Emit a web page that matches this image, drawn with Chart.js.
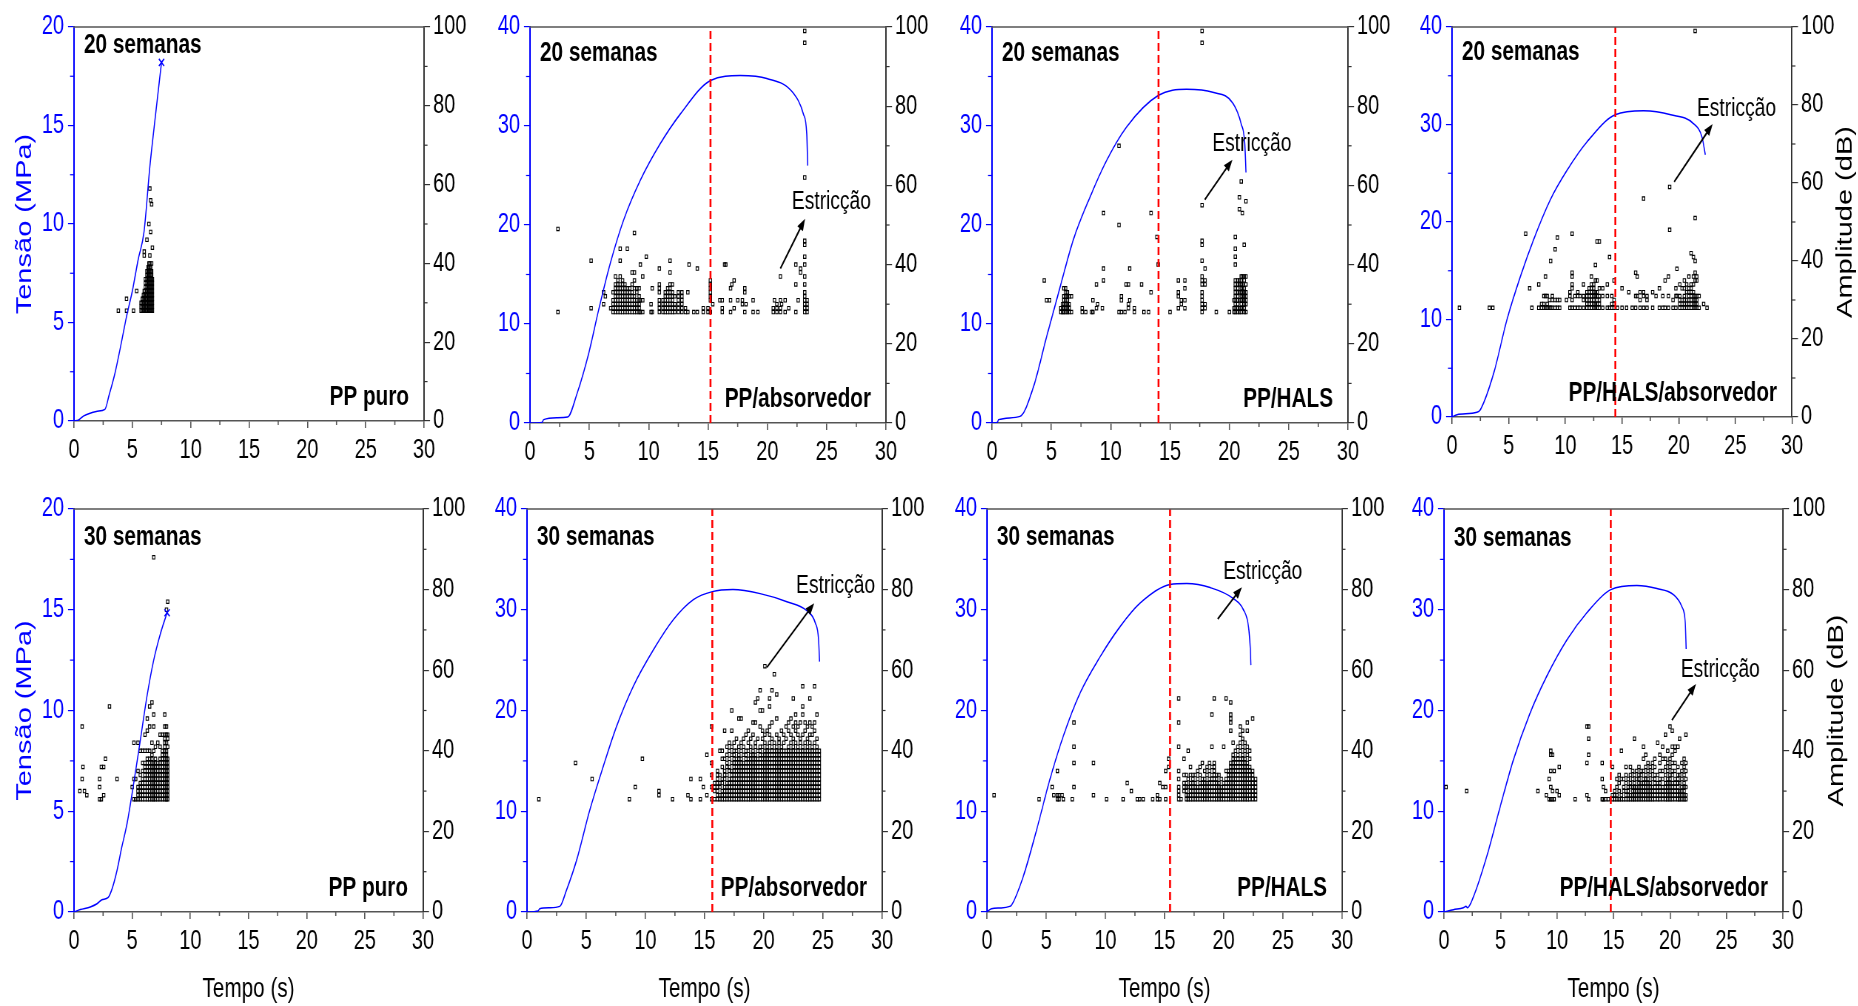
<!DOCTYPE html>
<html>
<head>
<meta charset="utf-8">
<script src="https://cdn.jsdelivr.net/npm/chart.js@4.4.1/dist/chart.umd.min.js"></script>
<style>
    html, body { margin: 0; padding: 0; background: #fff; }
    body { width: 1858px; height: 1006px; position: relative; overflow: hidden; }
    canvas { position: absolute; transform-origin: 0 0; }
</style>
</head>
<body>
<script>
// Tensile curves (stress vs time) with acoustic emission hits (amplitude vs time)

const weekLabels = ['20 semanas', '30 semanas'];
const materials = ['PP puro', 'PP/absorvedor', 'PP/HALS', 'PP/HALS/absorvedor'];
const stressMax = [20, 40, 40, 40];
const timeMax = 30;
const ampMax = 100;

// 20 weeks
const time20Puro = [0, 0.4, 0.8, 1.5, 2.0, 2.65, 3.0, 3.5, 4.0, 4.5, 5.0, 5.5, 6.0, 6.5, 7.0, 7.5];
const stress20Puro = [0, 0.05, 0.25, 0.42, 0.5, 0.59, 1.3, 2.4, 3.8, 5.3, 6.6, 8.2, 9.6, 12.9, 15.6, 18.2];
const hits20Puro = [
    [3.8, [28]], [4.5, [28, 31]], [5.1, [28]], [5.37, [33]],
    [5.75, [28, 29, 30]], [5.85, [28, 29, 30, 31]], [5.95, [28, 29, 30, 31, 32]],
    [6.02, [28, 29, 30, 31, 32, 33, 42, 43]], [6.12, [28, 29, 30, 31, 32, 33, 34, 35, 36]],
    [6.25, [28, 29, 30, 31, 32, 33, 34, 35, 36, 37, 38, 46]], [6.35, [28, 29, 30, 31, 32, 33, 34, 35, 36, 37, 38, 39]],
    [6.42, [28, 29, 30, 31, 32, 33, 34, 35, 36, 37, 38, 39, 40, 50]],
    [6.5, [28, 29, 30, 31, 32, 33, 34, 35, 36, 37, 38, 39, 40, 42, 59]],
    [6.57, [28, 29, 30, 31, 32, 33, 34, 35, 36, 37, 38, 39, 48, 56]],
    [6.65, [28, 29, 30, 31, 32, 33, 34, 35, 36, 37, 38, 40, 55]], [6.72, [28, 29, 30, 31, 32, 33, 34, 35, 36, 44]]
];

const time20Abs = [0, 1.0, 1.15, 2.27, 3.17, 3.96, 4.94, 5.78, 6.76, 7.89, 9.29, 10.97, 12.66, 15.21, 17.71, 19.95, 22.2, 23.04, 23.32, 23.4];
const stress20Abs = [0, 0.05, 0.34, 0.54, 0.6, 2.96, 7.0, 11.4, 16.1, 20.5, 24.5, 28.2, 31.2, 34.6, 35.1, 34.8, 33.3, 31.2, 29.2, 26.0];
const hits20Abs = [
    [2.35, [28, 49]], [5.15, [29, 41]], [6.2, [30, 33]], [6.35, [32]], [6.8, [29]],
    [7.0, [28, 29, 30, 31, 33]], [7.2, [28, 29, 30, 31, 32, 33, 34, 35, 37]], [7.4, [28, 29, 30, 31, 32, 33, 34, 35, 36]],
    [7.6, [28, 29, 30, 31, 32, 33, 34, 35, 37, 41, 44]], [7.8, [28, 29, 30, 31, 32, 33, 34, 35, 36]],
    [8.0, [28, 29, 30, 31, 32, 33, 34, 35]], [8.2, [28, 29, 30, 31, 32, 33, 34, 44]], [8.4, [28, 29, 30, 31, 32, 33, 34]],
    [8.6, [28, 29, 30, 31, 32, 33, 35, 38]], [8.8, [28, 29, 30, 31, 32, 34, 36, 38, 48]], [9.0, [28, 29, 30, 31, 33, 34]],
    [9.2, [28, 29, 30, 31, 32, 34]], [9.3, [28, 31, 40]], [9.5, [28, 31, 37]], [9.8, [42]],
    [10.2, [28, 30]], [10.3, [28, 34]], [10.9, [28, 29, 30, 31, 33, 34, 35, 39]], [11.2, [28, 29, 30, 31]],
    [11.4, [28, 29, 30, 31, 32, 33]], [11.6, [28, 29, 30, 31, 32, 33, 34]], [11.8, [28, 29, 30, 31, 32, 33, 34, 35, 38, 41]],
    [12.0, [28, 29, 30, 31, 32, 33, 35]], [12.2, [28, 29, 30, 32]], [12.5, [28, 29, 30, 31, 32, 33]],
    [12.8, [28, 29, 30, 31, 32, 33]], [13.1, [28, 29]], [13.3, [28, 33]], [13.4, [40]], [13.8, [28]], [14.1, [28, 39]],
    [14.6, [28, 29]], [15.0, [28, 29]], [15.2, [28, 31, 32, 33, 34, 35, 36]], [15.4, [30]],
    [16.0, [31]], [16.2, [28, 29, 31]], [16.4, [40]], [16.5, [40]], [16.9, [28, 31, 34]], [17.0, [35]],
    [17.2, [29, 36]], [17.5, [31]], [17.9, [30, 31]], [18.1, [28, 33, 34]], [18.2, [30]], [18.8, [28, 31]],
    [19.2, [28]], [20.5, [28, 29]], [20.6, [31]], [20.8, [28, 29, 30]], [21.1, [28, 29, 31, 37]], [21.2, [30]],
    [21.5, [28, 31]], [21.8, [29]], [22.4, [28, 35, 40]], [22.6, [31]], [22.8, [38, 39]],
    [23.15, [28, 29, 30, 31, 32, 33, 35, 37, 40, 42, 45, 46, 62, 96, 99]], [23.35, [28, 29, 30, 31]]
];

const time20Hals = [0, 0.45, 0.55, 2.36, 3.48, 4.6, 5.73, 6.85, 8.25, 9.65, 11.34, 14.03, 16.39, 18.6, 20.3, 21.0, 21.3, 21.4];
const stress20Hals = [0, 0.05, 0.34, 0.67, 3.6, 8.7, 13.7, 18.5, 22.8, 26.5, 29.9, 33.1, 33.7, 33.4, 32.3, 30.2, 28.2, 25.3];
const hits20Hals = [
    [4.4, [36]], [4.6, [31]], [4.85, [31]],
    [5.8, [28, 29]], [5.95, [28, 29, 30]], [6.05, [28, 29, 30, 31, 32, 34]], [6.2, [28, 29, 30, 31, 32, 33, 34]],
    [6.35, [28, 29, 30, 31, 32, 33]], [6.5, [28, 29, 30, 32]], [6.7, [28, 32]],
    [7.6, [28, 29]], [7.9, [28]], [8.4, [28]], [8.5, [28, 31]], [8.8, [29, 35]], [8.9, [30]], [9.3, [29]], [9.4, [36, 39, 53]],
    [10.7, [28, 50, 70]], [10.9, [28, 31, 32]], [11.2, [28]], [11.3, [35]], [11.5, [29, 30, 35]], [11.6, [31, 39]],
    [12.0, [28, 29]], [12.6, [35]], [12.8, [28]], [13.2, [28]], [13.4, [33, 53]], [13.9, [47]], [14.0, [40]],
    [15.0, [28]], [15.7, [29, 32, 33, 36]], [15.95, [30, 31]], [16.25, [29, 31, 34, 36]],
    [17.7, [28, 29, 30, 31, 32, 33, 35, 36, 37, 41, 45, 46, 55, 96, 99]], [17.95, [29, 30, 35, 36, 39]],
    [18.9, [28]], [20.0, [28]],
    [20.4, [28, 29, 31]], [20.5, [28, 29, 30, 31, 32, 33, 34, 35, 36, 40, 42, 44, 47]], [20.7, [28, 29, 30, 31, 32, 33, 34, 35, 36]],
    [20.85, [28, 29, 31, 33, 35, 36, 54, 57]], [21.0, [28, 29, 30, 31, 32, 33, 34, 35, 36, 37, 61]],
    [21.1, [29, 31, 32, 33, 34, 35, 37, 53]], [21.25, [28, 29, 30, 31, 32, 33, 34, 36, 37, 45]],
    [21.4, [28, 30, 31, 32, 33, 35, 37, 56]]
];

const time20HalsAbs = [0, 0.44, 2.2, 2.5, 3.68, 4.85, 6.03, 7.2, 8.68, 10.15, 11.9, 14.4, 16.9, 19.3, 21.3, 22.06, 22.35];
const stress20HalsAbs = [0, 0.24, 0.48, 0.75, 4.5, 10.0, 14.4, 18.2, 22.3, 25.3, 28.2, 31.0, 31.4, 31.0, 30.1, 28.7, 26.9];
const hits20HalsAbs = [
    [0.65, [28]], [3.3, [28]], [3.6, [28]], [6.5, [47]], [6.85, [33]], [7.05, [28]], [7.65, [28, 34]],
    [7.9, [28, 29]], [8.1, [28, 29, 31]], [8.25, [28, 31, 36]], [8.4, [28, 29, 31]], [8.6, [28, 30]], [8.7, [28, 40]],
    [8.85, [28, 30, 31]], [9.1, [28, 30, 43]], [9.3, [28, 30, 46]], [9.5, [28, 30]],
    [10.1, [30]], [10.4, [28, 31, 32]], [10.6, [28, 30, 33, 34, 36, 37, 47]], [10.85, [28, 31]], [11.1, [28, 31, 32]],
    [11.3, [28, 31]], [11.6, [28, 30, 31, 34]], [11.9, [28, 29, 30, 31, 32]], [12.1, [28, 29, 30, 31, 32, 33]],
    [12.3, [28, 29, 30, 31, 32, 33, 34, 36]], [12.5, [28, 29, 30, 31, 32, 33, 34]], [12.65, [28, 29, 31, 32, 35, 39]],
    [12.8, [28, 29, 30, 31, 32, 35, 45]], [13.0, [28, 29, 30, 31, 33, 45]], [13.3, [28, 31, 33]], [13.7, [28, 31, 34]],
    [13.9, [28, 41]], [14.1, [28, 29, 31]], [14.3, [28, 29, 30, 35]],
    [14.6, [28]], [15.0, [28, 33]], [15.4, [28]], [15.6, [32]], [15.9, [28]], [16.2, [28, 31, 37]], [16.35, [31, 36]],
    [16.6, [28, 30, 32]], [16.9, [28, 31, 32, 56]], [17.2, [28, 30, 31]], [17.7, [28, 32]], [18.0, [31]],
    [18.3, [28, 33]], [18.6, [28, 31]], [18.8, [28, 35]], [19.1, [28, 31, 36]], [19.2, [48, 59]], [19.5, [28, 30]],
    [19.75, [28, 31, 33]], [19.85, [31, 38]], [20.1, [28, 29, 30, 31, 34]], [20.3, [28, 29, 30, 33]],
    [20.5, [28, 29, 30, 31, 33, 35]], [20.7, [28, 29, 30, 32, 34]], [20.9, [28, 29, 30, 31, 32, 33, 36]],
    [21.1, [28, 29, 30, 31, 32, 33, 34, 42]], [21.3, [28, 29, 30, 31, 32, 34, 36, 41]],
    [21.45, [28, 29, 30, 31, 35, 37, 40, 51, 99]], [21.6, [28, 29, 30, 31, 35, 36]], [21.8, [28, 31]],
    [22.2, [29]], [22.5, [28]]
];

// 30 weeks
const time30Puro = [0, 0.54, 1.4, 1.98, 2.4, 2.92, 3.3, 3.7, 4.1, 4.56, 5.13, 5.7, 6.27, 6.85, 7.42, 8.0];
const stress30Puro = [0, 0.12, 0.25, 0.41, 0.61, 0.71, 1.2, 2.07, 3.2, 4.39, 6.38, 8.53, 10.7, 12.5, 13.8, 14.85];
const hits30Puro = [
    [0.5, [30]], [0.7, [33, 46]], [0.77, [36]], [0.9, [30]], [1.1, [29]], [2.2, [28, 31, 33]], [2.35, [28, 36]],
    [2.55, [29, 36]], [2.7, [38]], [3.05, [51]], [3.7, [33]],
    [5.0, [31]], [5.15, [28, 33, 42]], [5.3, [28, 33]], [5.5, [28, 29, 30, 31, 35, 42]],
    [5.7, [28, 29, 30, 31, 32, 34, 40]], [5.9, [28, 29, 30, 31, 32, 33, 35, 37, 40]],
    [6.1, [28, 29, 30, 31, 32, 33, 34, 35, 36, 37, 40, 44]], [6.3, [28, 29, 30, 31, 32, 33, 34, 35, 36, 37, 38, 40, 45, 48]],
    [6.5, [28, 29, 30, 31, 32, 33, 34, 35, 36, 37, 38, 40, 46, 51]], [6.7, [28, 29, 30, 31, 32, 33, 34, 35, 36, 37, 38, 39, 42, 52]],
    [6.85, [28, 29, 30, 31, 32, 33, 34, 35, 36, 37, 40, 46, 49, 88]], [7.0, [28, 29, 30, 31, 32, 33, 34, 35, 36, 37, 38, 41]],
    [7.2, [28, 29, 30, 31, 32, 33, 34, 35, 36, 37, 42]], [7.4, [28, 29, 30, 31, 32, 33, 34, 35, 36, 37, 38, 41, 44]],
    [7.6, [28, 29, 30, 31, 32, 33, 34, 35, 36, 37, 38, 39, 40, 44]],
    [7.8, [28, 29, 30, 31, 32, 33, 34, 35, 36, 37, 38, 39, 40, 41, 42, 43, 44, 46, 49]],
    [7.95, [28, 29, 30, 31, 32, 33, 34, 35, 36, 37, 38, 39, 40, 42, 44, 46, 75]],
    [8.05, [28, 29, 30, 31, 32, 33, 34, 35, 36, 37, 38, 41, 43, 44, 77]]
];

const time30Abs = [0, 0.93, 1.07, 1.9, 2.77, 3.33, 4.18, 5.3, 6.43, 7.56, 8.98, 10.67, 12.36, 14.06, 15.66, 17.4, 19.7, 21.96, 23.65, 24.36, 24.64, 24.72];
const stress30Abs = [0, 0.1, 0.33, 0.43, 0.56, 2.15, 5.1, 10.1, 14.4, 18.4, 22.4, 26.0, 29.0, 31.0, 31.8, 32.0, 31.6, 30.8, 29.9, 28.7, 27.0, 24.85];
const hits30Abs = [
    [1.0, [28]], [4.1, [37]], [5.5, [33]], [8.65, [28]], [9.15, [31]], [9.75, [38]], [11.15, [29, 30]], [12.3, [28]],
    [13.6, [29]], [13.85, [28, 33]], [14.65, [28, 33]], [14.9, [31]], [15.2, [29, 39]], [15.6, [28, 31, 34, 37, 46]],
    [15.85, [28, 30, 31, 32]],
    [16.1, [28, 29, 30, 31, 32, 33, 34, 35]], [16.3, [28, 29, 31, 32, 34, 40]], [16.5, [28, 29, 30, 32, 33, 36, 38, 40]],
    [16.7, [28, 29, 30, 31, 33, 34, 35, 38, 45]], [16.9, [28, 29, 30, 31, 32, 34, 36, 37, 39, 41]],
    [17.1, [28, 29, 30, 31, 32, 33, 35, 36, 38, 40, 42]], [17.3, [28, 29, 30, 31, 32, 33, 34, 35, 37, 39, 41, 45, 50]],
    [17.5, [28, 29, 30, 31, 32, 33, 34, 35, 36, 37, 38, 39, 40, 42]], [17.7, [28, 29, 30, 31, 32, 33, 34, 35, 36, 37, 38, 40, 43]],
    [17.9, [28, 29, 30, 31, 32, 33, 34, 35, 36, 37, 38, 39, 41, 48]], [18.1, [28, 29, 30, 31, 32, 33, 34, 35, 36, 37, 38, 40, 42, 48]],
    [18.3, [28, 29, 30, 31, 32, 33, 34, 35, 36, 37, 39, 41, 43]], [18.5, [28, 29, 30, 31, 32, 33, 34, 35, 36, 37, 38, 39, 40, 44]],
    [18.7, [28, 29, 30, 31, 32, 33, 34, 35, 36, 37, 38, 40, 42, 45]], [18.9, [28, 29, 30, 31, 32, 33, 34, 35, 36, 37, 38, 39, 41, 43]],
    [19.1, [28, 29, 30, 31, 32, 33, 34, 35, 36, 37, 38, 39, 40, 44, 47]],
    [19.3, [28, 29, 30, 31, 32, 33, 34, 35, 36, 37, 38, 39, 41, 42, 47, 52]],
    [19.5, [28, 29, 30, 31, 32, 33, 34, 35, 36, 37, 38, 40, 43, 53]],
    [19.7, [28, 29, 30, 31, 32, 33, 34, 35, 36, 37, 38, 39, 40, 41, 46, 50, 55]],
    [19.9, [28, 29, 30, 31, 32, 33, 34, 35, 36, 37, 38, 39, 41, 43, 45, 50]],
    [20.1, [28, 29, 30, 31, 32, 33, 34, 35, 36, 37, 38, 39, 40, 42, 44, 61]],
    [20.3, [28, 29, 30, 31, 32, 33, 34, 35, 36, 37, 38, 39, 40, 41, 45]],
    [20.5, [28, 29, 30, 31, 32, 33, 34, 35, 36, 37, 38, 39, 40, 42, 44, 46, 51, 53]],
    [20.7, [28, 29, 30, 31, 32, 33, 34, 35, 36, 37, 38, 39, 40, 41, 43, 47, 55]],
    [20.9, [28, 29, 30, 31, 32, 33, 34, 35, 36, 37, 38, 39, 40, 42, 59]],
    [21.1, [28, 29, 30, 31, 32, 33, 34, 35, 36, 37, 38, 39, 40, 41, 44, 48, 54]],
    [21.3, [28, 29, 30, 31, 32, 33, 34, 35, 36, 37, 38, 39, 40, 42, 43]],
    [21.5, [28, 29, 30, 31, 32, 33, 34, 35, 36, 37, 38, 39, 40, 41, 45]],
    [21.7, [28, 29, 30, 31, 32, 33, 34, 35, 36, 37, 38, 39, 40, 42, 44]],
    [21.9, [28, 29, 30, 31, 32, 33, 34, 35, 36, 37, 38, 39, 40, 43, 46]],
    [22.1, [28, 29, 30, 31, 32, 33, 34, 35, 36, 37, 38, 39, 40, 41, 45, 47]],
    [22.3, [28, 29, 30, 31, 32, 33, 34, 35, 36, 37, 38, 39, 40, 42, 44, 48]],
    [22.5, [28, 29, 30, 31, 32, 33, 34, 35, 36, 37, 38, 39, 40, 41, 43, 46, 53]],
    [22.7, [28, 29, 30, 31, 32, 33, 34, 35, 36, 37, 38, 39, 40, 42, 45, 47, 49]],
    [22.9, [28, 29, 30, 31, 32, 33, 34, 35, 36, 37, 38, 39, 40, 41, 44, 46]],
    [23.1, [28, 29, 30, 31, 32, 33, 34, 35, 36, 37, 38, 39, 40, 42, 43, 47]],
    [23.3, [28, 29, 30, 31, 32, 33, 34, 35, 36, 37, 38, 39, 40, 41, 44, 49, 51, 56]],
    [23.5, [28, 29, 30, 31, 32, 33, 34, 35, 36, 37, 38, 39, 40, 42, 45, 47]],
    [23.7, [28, 29, 30, 31, 32, 33, 34, 35, 36, 37, 38, 39, 40, 41, 43, 46]],
    [23.9, [28, 29, 30, 31, 32, 33, 34, 35, 36, 37, 38, 39, 40, 42, 44, 47, 53]],
    [24.1, [28, 29, 30, 31, 32, 33, 34, 35, 36, 37, 38, 39, 40, 41, 44, 46]],
    [24.3, [28, 29, 30, 31, 32, 33, 34, 35, 36, 37, 38, 39, 40, 42, 45, 47, 56]],
    [24.5, [28, 29, 30, 31, 32, 33, 34, 35, 36, 37, 38, 39, 40, 41, 43, 49]],
    [24.7, [28, 29, 30, 31, 32, 33, 34, 35, 36, 37, 38, 39, 40]]
];

const time30Hals = [0, 0.37, 1.2, 1.92, 2.06, 3.05, 4.18, 5.3, 6.43, 7.85, 9.54, 11.23, 12.93, 15.47, 16.88, 18.85, 20.83, 21.67, 22.1, 22.24, 22.3];
const stress30Hals = [0, 0.33, 0.4, 0.56, 0.66, 3.48, 8.1, 13.1, 17.4, 21.7, 25.3, 28.3, 30.65, 32.5, 32.6, 32.2, 31.1, 30.0, 28.3, 26.3, 24.5];
const hits30Hals = [
    [0.6, [29]], [4.4, [28]], [5.5, [31]], [5.65, [29]], [5.95, [28, 29, 35]], [6.1, [28, 29]], [6.35, [29]], [6.45, [28]],
    [7.2, [28]], [7.35, [31, 37, 41, 47]], [9.0, [29, 37]], [10.1, [28]], [11.5, [28]], [11.85, [32]], [12.2, [30]],
    [12.7, [28]], [12.9, [28]], [13.2, [28]], [14.0, [28]], [14.4, [28, 29]], [14.6, [28, 32]], [14.85, [31]],
    [15.1, [28, 31, 35]], [15.35, [36, 38]],
    [16.2, [28, 29, 30, 31, 33, 35, 41, 47, 53]], [16.4, [28]], [16.65, [30, 31, 32, 34, 38]], [16.85, [28, 29, 30, 31, 32, 34]],
    [17.0, [28, 29, 31, 33, 40]], [17.2, [28, 29, 30, 31, 32, 34, 36]], [17.4, [28, 29, 30, 31, 32, 33, 34]],
    [17.6, [28, 29, 30, 31, 32, 34]], [17.8, [28, 29, 30, 31, 33, 35]], [18.0, [28, 29, 30, 31, 32, 34, 36]],
    [18.2, [28, 29, 30, 31, 32, 33, 37]], [18.4, [28, 29, 30, 31, 32, 33, 35]], [18.6, [28, 29, 30, 31, 32, 34, 36]],
    [18.8, [28, 29, 30, 31, 32, 33, 35, 37]], [19.0, [28, 29, 30, 31, 32, 33, 34, 36, 41, 49]],
    [19.2, [28, 29, 30, 31, 32, 33, 34, 35, 36, 37, 53]], [19.4, [28, 29, 30, 31, 32, 33, 34]],
    [19.6, [28, 29, 30, 31, 32, 34]], [19.8, [28, 29, 30, 31, 33]], [20.0, [28, 29, 30, 31, 32, 41]],
    [20.2, [28, 29, 30, 31, 32, 33, 35, 53]], [20.4, [28, 29, 30, 31, 32, 33, 34, 35]],
    [20.6, [28, 29, 30, 31, 32, 33, 34, 35, 36, 37, 45, 47, 48, 49, 52]],
    [20.8, [28, 29, 30, 31, 32, 33, 34, 35, 36, 37, 38, 39, 42]], [21.0, [28, 29, 30, 31, 32, 33, 34, 35, 36, 37, 38, 40]],
    [21.2, [28, 29, 30, 31, 32, 33, 34, 35, 36, 37, 38, 39, 41]],
    [21.4, [28, 29, 30, 31, 32, 33, 34, 35, 36, 37, 38, 40, 42, 44, 46]],
    [21.6, [28, 29, 30, 31, 32, 33, 34, 35, 36, 37, 38, 39, 41, 43, 45]],
    [21.8, [28, 29, 30, 31, 32, 33, 34, 35, 36, 37, 38, 40, 42]],
    [22.0, [28, 29, 30, 31, 32, 33, 34, 35, 36, 37, 39, 41, 45, 47]],
    [22.2, [28, 29, 30, 31, 32, 33, 34, 35, 36, 38, 40]], [22.45, [28, 29, 30, 31, 32, 33, 34, 35, 48]],
    [22.7, [28, 29, 30, 31, 32, 33]]
];

const time30HalsAbs = [0, 0.83, 1.71, 1.95, 2.07, 2.6, 3.78, 4.96, 6.14, 7.6, 9.09, 10.87, 12.64, 14.76, 17.07, 18.84, 20.3, 21.05, 21.35, 21.43];
const stress30HalsAbs = [0, 0.23, 0.43, 0.56, 0.43, 1.5, 5.5, 10.4, 15.1, 19.7, 23.4, 27.0, 29.7, 32.0, 32.4, 32.1, 31.5, 30.3, 28.7, 26.1];
const hits30HalsAbs = [
    [0.18, [31]], [2.0, [30]], [8.3, [30]], [9.05, [29]], [9.3, [28, 33]], [9.45, [28, 31, 35, 39, 40]], [9.6, [28, 30, 39]],
    [9.75, [28, 35]], [10.0, [30]], [10.2, [29, 36]], [11.6, [28]], [12.65, [29, 37, 46]], [12.8, [28, 39, 43, 46]],
    [14.0, [28, 33, 37]], [14.1, [28, 31]], [14.3, [28, 30]], [14.55, [28]], [14.9, [28, 29, 36]], [15.1, [28, 29, 30]],
    [15.3, [28, 29, 31, 33]], [15.5, [28, 30, 32, 34]], [15.7, [28, 29, 33, 40]], [15.9, [28, 30, 31, 33]],
    [16.1, [28, 29, 30, 32, 34, 36]], [16.3, [28, 29, 30, 31, 33]], [16.5, [28, 29, 31, 32, 34, 36]],
    [16.7, [28, 29, 30, 31, 33, 35]], [16.85, [28, 29, 30, 31, 32, 34, 43]], [17.05, [28, 29, 30, 31, 33, 35]],
    [17.25, [28, 29, 30, 31, 32, 33, 34, 36]], [17.45, [28, 29, 30, 31, 32, 34, 35]],
    [17.65, [28, 29, 30, 31, 32, 33, 35, 38, 41]], [17.85, [28, 29, 30, 31, 32, 33, 34, 36, 39]],
    [18.05, [28, 29, 30, 31, 32, 33, 35, 37]], [18.25, [28, 29, 30, 31, 32, 34, 36]], [18.45, [28, 29, 30, 31, 33, 35, 37]],
    [18.65, [28, 29, 30, 31, 32, 33, 34, 36, 38]], [18.9, [28, 29, 30, 31, 32, 34, 42]],
    [19.1, [28, 29, 30, 31, 32, 33, 35, 37, 39]], [19.35, [28, 29, 30, 31, 33, 35, 38, 41]],
    [19.6, [28, 29, 30, 31, 32, 34, 36, 38, 44]], [19.8, [28, 29, 30, 31, 32, 33, 35, 37, 40]],
    [20.0, [28, 29, 30, 31, 32, 33, 34, 36, 38, 46]], [20.2, [28, 29, 30, 31, 32, 34, 35, 37, 39, 41, 45]],
    [20.45, [28, 29, 30, 31, 32, 33, 35, 37, 40, 41]], [20.7, [28, 29, 30, 31, 32, 33, 34, 36, 41]],
    [20.85, [28, 29, 30, 32, 34, 43]], [21.05, [28, 29, 30, 31, 33, 35, 37]], [21.25, [28, 29, 30, 31, 32, 34, 36, 38]],
    [21.4, [28, 29, 31, 33, 35, 37, 44]]
];

// onset of necking (red dashed line), s
const neckTime = [null, 15.21, 14.03, 14.41, null, 15.66, 15.47, 14.76];
// "Estricção" arrows: [time, amplitude] on the amplitude axis
const arrowFrom = [null, [21.1, 39], [17.93, 56.4], [19.6, 60.3], null, [20.27, 60.7], [19.5, 72.7], [20.17, 47.6]];
const arrowTo = [null, [23.18, 51.6], [20.26, 66.5], [23.0, 75.1], null, [24.27, 76.6], [21.54, 80.6], [22.3, 56.6]];
const arrowLabel = [null, [25.4, 55.8], [21.9, 70.5], [25.1, 79], null, [26.08, 81], [23.3, 84.5], [24.45, 60]];

const series = [
    [time20Puro, stress20Puro, hits20Puro], [time20Abs, stress20Abs, hits20Abs],
    [time20Hals, stress20Hals, hits20Hals], [time20HalsAbs, stress20HalsAbs, hits20HalsAbs],
    [time30Puro, stress30Puro, hits30Puro], [time30Abs, stress30Abs, hits30Abs],
    [time30Hals, stress30Hals, hits30Hals], [time30HalsAbs, stress30HalsAbs, hits30HalsAbs]
];

// plot-area boxes on the page: left, top, right, bottom
const boxes = [
    [74, 27, 424, 421], [530, 27, 886, 423], [992, 27, 1348, 423], [1452, 27, 1792, 417],
    [74, 509, 423, 912], [527, 509, 882, 912], [987, 509, 1342, 912], [1444, 509, 1783, 912]
];
const weekDy = [18, 26, 26, 25, 28, 28, 28, 29];

const BLUE = '#0000ff';
const GRAY = '#555555';
const DARK = '#333333';
const SANS = '"Liberation Sans", Arial, sans-serif';
const LEFT_W = 74;
// the figure is drawn wide and squeezed horizontally, which gives the condensed lettering
const K = 0.74;

function flattenHits(cols) {
    const pts = [];
    cols.forEach(([t, amps]) => amps.forEach(a => pts.push({ x: t, y: a })));
    return pts;
}

function drawLine(ctx, x0, y0, x1, y1) {
    ctx.beginPath();
    ctx.moveTo(x0, y0);
    ctx.lineTo(x1, y1);
    ctx.stroke();
}

function panelDecor(i) {
    const row = Math.floor(i / 4);
    const col = i % 4;
    return {
        id: 'panelDecor' + i,
        afterDraw(chart) {
            const { ctx, chartArea: a, scales } = chart;
            const x = scales.x, y = scales.y, y2 = scales.y2;
            ctx.save();

            // top frame edge
            ctx.strokeStyle = GRAY;
            ctx.lineWidth = 1.5;
            drawLine(ctx, a.left - 1, a.top, a.right + 1, a.top);

            // minor ticks
            ctx.lineWidth = 1.6;
            for (let v = 2.5; v < timeMax; v += 5) {
                const px = x.getPixelForValue(v);
                drawLine(ctx, px, a.bottom, px, a.bottom + 4);
            }
            ctx.lineWidth = 1.2;
            ctx.strokeStyle = BLUE;
            const sStep = stressMax[col] / 4;
            for (let v = sStep / 2; v < stressMax[col]; v += sStep) {
                const py = y.getPixelForValue(v);
                drawLine(ctx, a.left, py, a.left - 4 / K, py);
            }
            ctx.strokeStyle = DARK;
            for (let v = 10; v < ampMax; v += 20) {
                const py = y2.getPixelForValue(v);
                drawLine(ctx, a.right, py, a.right + 3.5 / K, py);
            }

            // panel captions
            ctx.fillStyle = '#000';
            ctx.textBaseline = 'middle';
            ctx.font = 'bold 28px ' + SANS;
            ctx.textAlign = 'left';
            ctx.fillText(weekLabels[row], a.left + 10 / K, a.top + weekDy[i]);
            ctx.textAlign = 'right';
            ctx.fillText(materials[col], a.right - 15 / K, a.bottom - 24);

            // necking arrow
            if (arrowFrom[i]) {
                const x0 = x.getPixelForValue(arrowFrom[i][0]), y0 = y2.getPixelForValue(arrowFrom[i][1]);
                const x1 = x.getPixelForValue(arrowTo[i][0]), y1 = y2.getPixelForValue(arrowTo[i][1]);
                const ang = Math.atan2(y1 - y0, x1 - x0);
                const head = 12, half = 4.5;
                ctx.strokeStyle = '#000';
                ctx.lineWidth = 2;
                drawLine(ctx, x0, y0, x1 - Math.cos(ang) * head * 0.8, y1 - Math.sin(ang) * head * 0.8);
                ctx.beginPath();
                ctx.moveTo(x1, y1);
                ctx.lineTo(x1 - head * Math.cos(ang) + half * Math.sin(ang), y1 - head * Math.sin(ang) - half * Math.cos(ang));
                ctx.lineTo(x1 - head * Math.cos(ang) - half * Math.sin(ang), y1 - head * Math.sin(ang) + half * Math.cos(ang));
                ctx.closePath();
                ctx.fill();
                ctx.font = '26px ' + SANS;
                ctx.textAlign = 'center';
                ctx.fillText('Estricção', x.getPixelForValue(arrowLabel[i][0]), y2.getPixelForValue(arrowLabel[i][1]));
            }

            // right axis title on the last column
            if (col === 3) {
                ctx.save();
                ctx.translate(a.right + 54 / K, (a.top + a.bottom) / 2);
                ctx.rotate(-Math.PI / 2);
                ctx.font = '29px ' + SANS;
                ctx.textAlign = 'center';
                ctx.fillStyle = '#000';
                ctx.fillText('Amplitude (dB)', 0, 0);
                ctx.restore();
            }
            ctx.restore();
        }
    };
}

function buildPanel(i) {
    const row = Math.floor(i / 4);
    const col = i % 4;
    const [l, t, r, b] = boxes[i];
    const [time, stress, hits] = series[i];
    const rightPx = col === 3 ? 1858 - r : 60;
    const bottomH = row === 1 ? 94 : 50;
    const top = row === 0 ? 0 : 470;
    const padTop = t - top;

    const canvas = document.createElement('canvas');
    const width = Math.ceil((LEFT_W + (r - l) + rightPx) / K);
    const rightW = width - (LEFT_W + (r - l)) / K;
    canvas.width = width;
    canvas.height = padTop + (b - t) + bottomH;
    canvas.style.left = (l - LEFT_W) + 'px';
    canvas.style.top = top + 'px';
    canvas.style.transform = 'scaleX(' + K + ')';
    document.body.appendChild(canvas);

    const datasets = [];
    if (neckTime[i] !== null) {
        datasets.push({
            data: [{ x: neckTime[i], y: 0 }, { x: neckTime[i], y: stressMax[col] }],
            yAxisID: 'y',
            showLine: true,
            borderColor: '#ff0000',
            borderWidth: 2.6,
            borderDash: [8, 4],
            pointRadius: 0
        });
    }
    datasets.push({
        data: time.map((tv, k) => ({ x: tv, y: stress[k] })),
        yAxisID: 'y',
        showLine: true,
        borderColor: BLUE,
        borderWidth: 1.5,
        cubicInterpolationMode: 'monotone',
        pointRadius: 0
    });
    if (col === 0) {
        // fracture point of the neat PP
        const last = time.length - 1;
        datasets.push({
            data: [{ x: time[last], y: stress[last] }],
            yAxisID: 'y',
            pointStyle: 'crossRot',
            pointRadius: 5,
            borderColor: BLUE,
            borderWidth: 1.6
        });
    }
    datasets.push({
        data: flattenHits(hits),
        yAxisID: 'y2',
        pointStyle: 'rect',
        pointRadius: 2.4,
        borderWidth: 1.1,
        borderColor: '#000',
        backgroundColor: 'rgba(0,0,0,0)'
    });

    const tickFont = { family: SANS, size: 27 };

    new Chart(canvas, {
        type: 'scatter',
        data: { datasets },
        options: {
            responsive: false,
            animation: false,
            events: [],
            layout: { padding: { top: padTop, left: 0, right: 0, bottom: 0 } },
            plugins: { legend: { display: false }, tooltip: { enabled: false } },
            scales: {
                x: {
                    type: 'linear',
                    position: 'bottom',
                    min: 0,
                    max: timeMax,
                    ticks: { stepSize: 5, color: '#000', font: tickFont, padding: 6, maxRotation: 0, autoSkip: false },
                    grid: { drawOnChartArea: false, tickLength: 7, color: GRAY, lineWidth: 1.6 },
                    border: { color: GRAY, width: 1.5 },
                    title: {
                        display: row === 1,
                        text: 'Tempo (s)',
                        color: '#000',
                        font: { family: SANS, size: 28 },
                        padding: { top: 0, bottom: 0 }
                    },
                    afterFit: s => { s.height = bottomH; }
                },
                y: {
                    type: 'linear',
                    position: 'left',
                    min: 0,
                    max: stressMax[col],
                    ticks: { stepSize: stressMax[col] / 4, color: BLUE, font: tickFont, padding: 4 / K },
                    grid: { drawOnChartArea: false, tickLength: 6 / K, color: BLUE, lineWidth: 1.2 },
                    border: { color: BLUE, width: 2 },
                    title: {
                        display: col === 0,
                        text: 'Tensão (MPa)',
                        color: BLUE,
                        font: { family: SANS, size: 29 },
                        padding: { top: 25 / K - 17.4, bottom: 0 }
                    },
                    afterFit: s => { s.width = LEFT_W / K; }
                },
                y2: {
                    type: 'linear',
                    position: 'right',
                    min: 0,
                    max: ampMax,
                    ticks: { stepSize: 20, color: '#000', font: tickFont, padding: 3 / K },
                    grid: { drawOnChartArea: false, tickLength: 6 / K, color: DARK, lineWidth: 1.2 },
                    border: { color: DARK, width: 2 },
                    afterFit: s => { s.width = rightW; }
                }
            }
        },
        plugins: [panelDecor(i)]
    });
}

for (let i = 0; i < 8; i++) {
    buildPanel(i);
}
</script>
</body>
</html>
